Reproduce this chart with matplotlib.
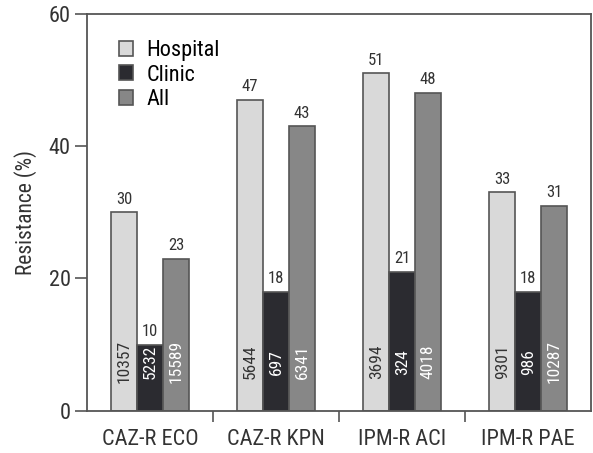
import numpy as np
import matplotlib.pyplot as plt
from matplotlib.ticker import FixedLocator

plt.rcParams['font.family'] = ['Roboto Condensed', 'Liberation Sans Narrow', 'Roboto', 'DejaVu Sans']

categories = ['CAZ-R ECO', 'CAZ-R KPN', 'IPM-R ACI', 'IPM-R PAE']
series = ['Hospital', 'Clinic', 'All']
hospital = [30, 47, 51, 33]
clinic = [10, 18, 21, 18]
all_ = [23, 43, 48, 31]
hospital_n = [10357, 5644, 3694, 9301]
clinic_n = [5232, 697, 324, 986]
all_n = [15589, 6341, 4018, 10287]

colors = ['#d9d9d9', '#2b2b30', '#878787']
text_colors = ['#333333', 'white', 'white']

fig = plt.figure(figsize=(5.93, 4.53), dpi=100)
ax = fig.add_axes([0.147, 0.093, 0.850, 0.877])

x = np.arange(len(categories))
w = 0.206
edge = '#555555'
for i, (vals, ns) in enumerate(zip([hospital, clinic, all_], [hospital_n, clinic_n, all_n])):
    xs = x + (i - 1) * w
    ax.bar(xs, vals, w, color=colors[i], edgecolor=edge, linewidth=1.2,
           label=series[i], zorder=2)
    for xi, v, n in zip(xs, vals, ns):
        ax.annotate(str(v), (xi, v), xytext=(0, 4), textcoords='offset points',
                    ha='center', va='bottom', fontsize=12, color='#333333')
        ax.text(xi, 7.4, str(n), rotation=90, ha='center', va='center',
                fontsize=12.5, color=text_colors[i], zorder=3)

ax.set_xlim(-0.5, 3.5)
ax.set_ylim(0, 60)
ax.set_yticks([0, 20, 40, 60])
ax.set_xticks(x)
ax.set_xticklabels(categories, fontsize=16, color='#333333')
ax.xaxis.set_minor_locator(FixedLocator([0.5, 1.5, 2.5]))
ax.tick_params(axis='x', which='major', length=0, pad=13)
ax.tick_params(axis='x', which='minor', length=8, width=1.2, color=edge, direction='out')
ax.tick_params(axis='y', length=9, width=1.2, color=edge, labelsize=16,
               labelcolor='#333333', pad=3)
ax.set_ylabel('Resistance (%)', fontsize=15.5, color='#333333', labelpad=8)
for s in ax.spines.values():
    s.set_color(edge)
    s.set_linewidth(1.3)

leg = ax.legend(loc='upper left', bbox_to_anchor=(0.045, 0.955), frameon=False,
                fontsize=16, handlelength=0.65, handleheight=0.65,
                handletextpad=0.6, labelspacing=0.15, borderaxespad=0)

fig.savefig('out.png', dpi=100)
